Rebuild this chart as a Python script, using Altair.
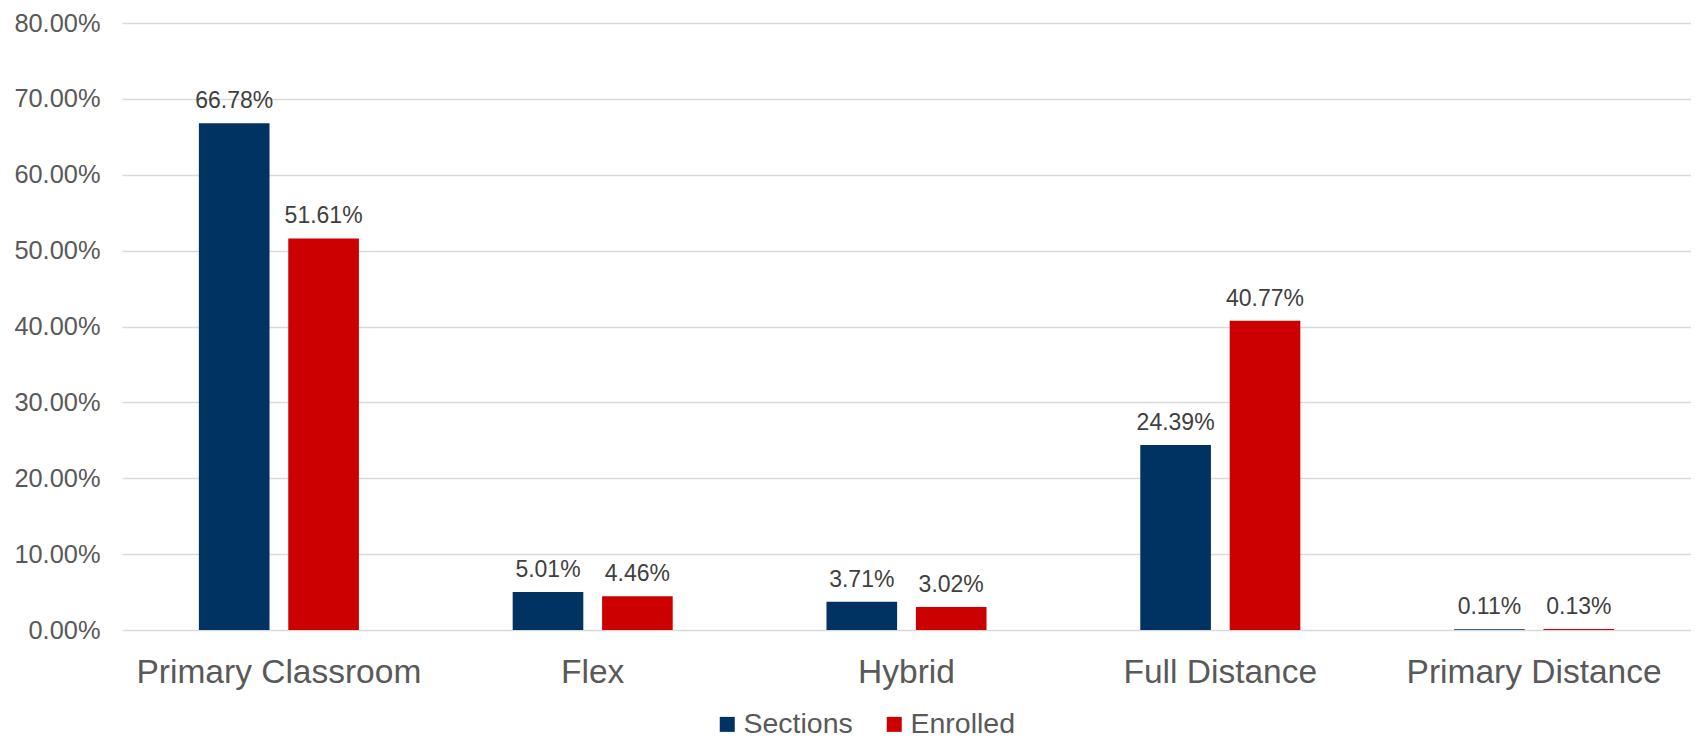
import altair as alt
import pandas as pd

categories = ["Primary Classroom", "Flex", "Hybrid", "Full Distance", "Primary Distance"]
series_names = ["Sections", "Enrolled"]
sections = [66.78, 5.01, 3.71, 24.39, 0.11]
enrolled = [51.61, 4.46, 3.02, 40.77, 0.13]
colors = ["#003262", "#CC0000"]
y_ticks = [0.0, 0.1, 0.2, 0.3, 0.4, 0.5, 0.6, 0.7, 0.8]

rows = []
for c, s, e in zip(categories, sections, enrolled):
    rows.append({"category": c, "series": "Sections", "value": s / 100})
    rows.append({"category": c, "series": "Enrolled", "value": e / 100})
df = pd.DataFrame(rows)

FONT = "Liberation Sans"

x = alt.X(
    "category:N",
    sort=categories,
    title=None,
    scale=alt.Scale(paddingInner=0.49, paddingOuter=0.245),
    axis=alt.Axis(
        labelAngle=0, labelFontSize=33.5, labelColor="#595959", labelFont=FONT,
        labelPadding=26, labelLimit=0, ticks=False, tickSize=0, domain=False, grid=False,
    ),
)
xo = alt.XOffset("series:N", sort=series_names,
                 scale=alt.Scale(paddingInner=0.21, paddingOuter=0))
y = alt.Y(
    "value:Q",
    title=None,
    scale=alt.Scale(domain=[0, 0.8], nice=False),
    axis=alt.Axis(
        format=".2%", values=y_ticks, labelFontSize=25.4, labelColor="#595959",
        labelFont=FONT, labelPadding=22, ticks=False, tickSize=0, domain=False,
        grid=True, gridColor="#D9D9D9", gridWidth=1.5,
    ),
)
color = alt.Color(
    "series:N",
    sort=series_names,
    scale=alt.Scale(domain=series_names, range=colors),
    legend=alt.Legend(
        title=None, orient="none", legendX=591, legendY=687, direction="horizontal",
        symbolType="square", symbolSize=225, symbolStrokeWidth=0,
        labelFontSize=28.5, labelFont=FONT, labelColor="#595959",
        labelOffset=2, columnPadding=27,
    ),
)

bars = alt.Chart(df).mark_bar().encode(x=x, xOffset=xo, y=y, color=color)
labels = alt.Chart(df).mark_text(
    baseline="alphabetic", dy=-15, fontSize=23, font=FONT, color="#404040"
).encode(
    x=x, xOffset=xo, y=y, text=alt.Text("value:Q", format=".2%")
)

chart = alt.layer(bars, labels).properties(
    width=1569,
    height=607,
    autosize=alt.AutoSizeParams(type="none"),
    padding={"left": 114, "top": 15, "right": 0, "bottom": 108},
).configure_view(stroke=None)

chart.save("out.html", embed_options={"renderer": "svg", "actions": False})
